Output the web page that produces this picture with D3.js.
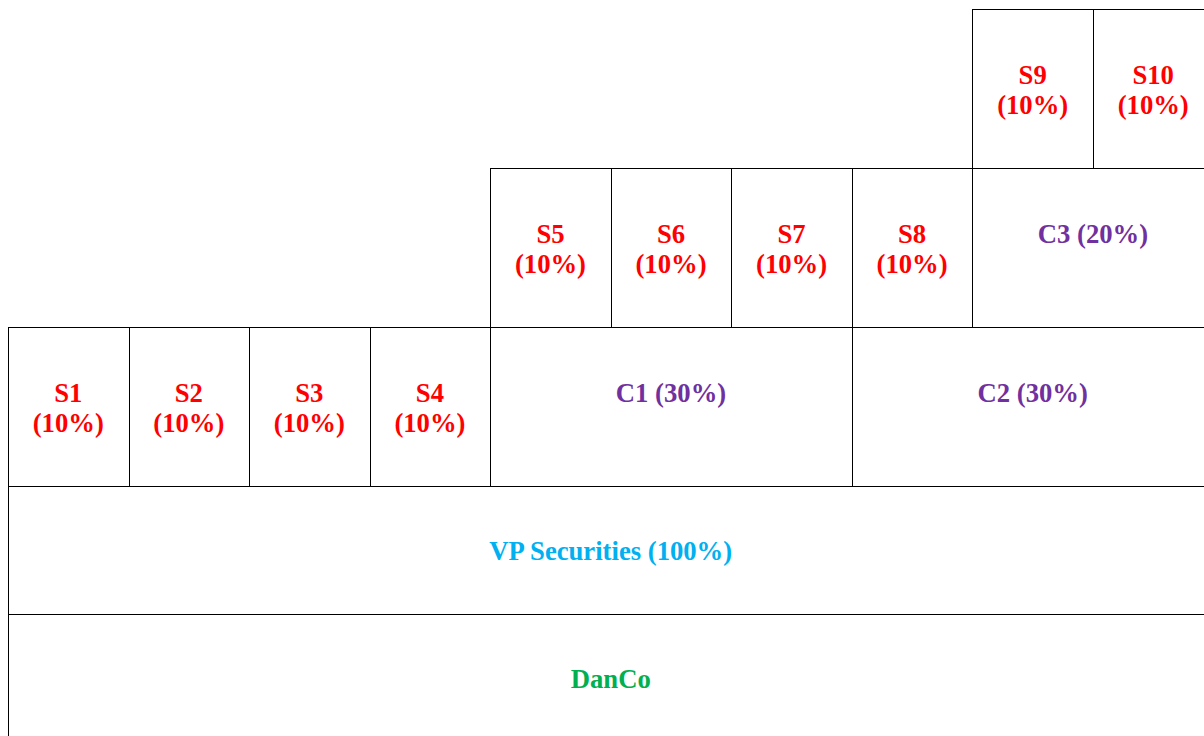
<!DOCTYPE html>
<html>
<head>
<meta charset="utf-8">
<script src="https://cdn.jsdelivr.net/npm/d3@7"></script>
<style>
  body { margin: 0; background: #fff; overflow: hidden; }
  text { font-family: "Liberation Serif", "Times New Roman", serif; font-weight: bold; font-size: 26.67px; }
</style>
</head>
<body>
<div id="chart"></div>
<script>
// ownership structure
const names = ["DanCo", "VP Securities", "S1", "S2", "S3", "S4", "C1", "C2",
  "S5", "S6", "S7", "S8", "C3", "S9", "S10"];
const parents = [null, "DanCo", "VP Securities", "VP Securities", "VP Securities", "VP Securities",
  "VP Securities", "VP Securities", "C1", "C1", "C1", "C2", "C2", "C3", "C3"];
const shares = [null, 100, 10, 10, 10, 10, 30, 30, 10, 10, 10, 10, 20, 10, 10];

const width = 1204, height = 736;

const rows = names.map((n, i) => ({ name: n, parent: parents[i], share: shares[i] }));

const root = d3.stratify()
  .id(d => d.name)
  .parentId(d => d.parent)(rows)
  .sum(d => parents.includes(d.name) ? 0 : d.share);

d3.partition().size([100, 5])(root);

const x = d3.scaleLinear().domain([0, 100]).range([8, 1213.5]);
// depth rows go bottom-up, upper rows are taller
const y = d3.scaleLinear().domain([0, 1, 2, 3, 4, 5]).range([742, 614, 486, 327, 168, 9]);

function colorOf(d) {
  if (d.depth === 0) return "#00B050";
  if (d.depth === 1) return "#00B0F0";
  return d.children ? "#7030A0" : "#FF0000";
}

const svg = d3.select("#chart")
  .append("svg")
  .attr("width", width)
  .attr("height", height);

const cell = svg.selectAll("g.cell")
  .data(root.descendants())
  .join("g")
  .attr("class", "cell");

cell.append("rect")
  .attr("x", d => Math.round(x(d.x0)) + 0.5)
  .attr("y", d => Math.round(y(d.y1)) + 0.5)
  .attr("width", d => Math.round(x(d.x1)) - Math.round(x(d.x0)))
  .attr("height", d => Math.round(y(d.y0)) - Math.round(y(d.y1)))
  .attr("fill", "none")
  .attr("stroke", "#000")
  .attr("stroke-width", 1);

cell.each(function (d) {
  const g = d3.select(this);
  const cx = (x(d.x0) + x(d.x1)) / 2;
  const cy = (y(d.y0) + y(d.y1)) / 2;
  const pct = d.data.share == null ? "" : `(${d.data.share}%)`;
  let lines;
  if (d.depth < 2) {
    lines = [[pct ? `${d.data.name} ${pct}` : d.data.name, cy + 10]];
  } else if (d.children) {
    lines = [[`${d.data.name} ${pct}`, cy - 4.5]];
  } else {
    lines = [[d.data.name, cy - 4.5], [pct, cy + 25.5]];
  }
  lines.forEach(([t, ty]) => {
    g.append("text")
      .attr("x", cx)
      .attr("y", ty)
      .attr("text-anchor", "middle")
      .attr("fill", colorOf(d))
      .text(t);
  });
});
</script>
</body>
</html>
